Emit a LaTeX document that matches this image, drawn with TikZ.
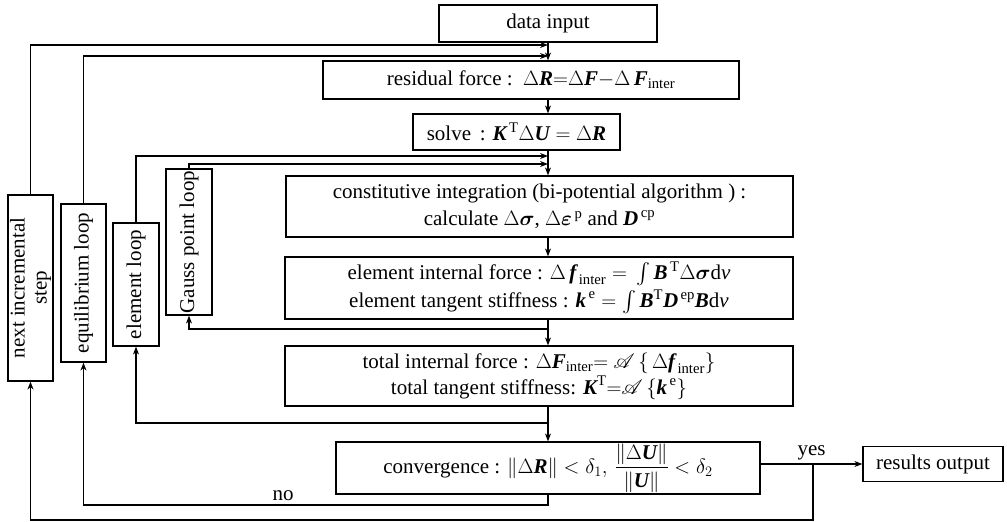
\documentclass[tikz,border=0pt]{standalone}
\usepackage{amsmath,amssymb,mathrsfs}
\usepackage{fontspec}
\setmainfont{Liberation Serif}
\usepackage{tikz}
\usetikzlibrary{arrows.meta}
\usetikzlibrary{calc}
\newcommand\vb[1]{\text{\bfseries\itshape #1}}
\newcommand\gb[1]{\boldsymbol{#1}}
\newcommand\up[1]{\mathrm{#1}}
\newcommand\iv{\text{\itshape v}}
\newcommand\inter{\text{inter}}
\tikzstyle{flowhead}=[>/.tip={Stealth[length=8pt,width=6pt]}]
\tikzstyle{flow}=[line width=1.2pt,flowhead,->]
\tikzstyle{stepbox}=[draw,line width=1.2pt,inner sep=0pt,align=center]
\tikzstyle{loopbox}=[stepbox,rotate=90]

\begin{document}
\begin{tikzpicture}[x=1pt,y=-1pt,font=\fontsize{21}{25}\selectfont]
  \useasboundingbox (0,0) rectangle (1007,522);
  % main column
  \node[stepbox,minimum width=218pt,minimum height=37pt] (input) at (548,23.5) {data input};
  \node[stepbox,minimum width=416pt,minimum height=38pt] (resid) at (531,80)
    {residual force :\ \ $\Delta\vb{R}{=}\Delta\vb{F}{-}\Delta\,\vb{F}_{\inter}$};
  \node[stepbox,minimum width=207pt,minimum height=36pt] (solve) at (516.5,132)
    {solve \,: $\vb{K}^{\,\up{T}}\Delta\vb{U}=\Delta\vb{R}$};
  \node[stepbox,minimum width=507pt,minimum height=61pt] (const) at (539.5,206.5)
    {constitutive integration (bi-potential algorithm ) :\\[2pt]
     calculate $\Delta\gb{\sigma}$, $\Delta\gb{\varepsilon}^{\,\up{p}}$ and $\vb{D}^{\,\up{cp}}$};
  \node[stepbox,minimum width=508pt,minimum height=62pt] (elem) at (539,288)
    {element internal force : $\Delta\,\vb{f}_{\,\inter}=\,\int\vb{B}^{\,\up{T}}\Delta\gb{\sigma}\up{d}\iv$\\[3pt]
     element tangent stiffness : $\vb{k}^{\,\up{e}}=\int\vb{B}^{\up{T}}\vb{D}^{\,\up{ep}}\vb{B}\up{d}\iv$};
  \node[stepbox,minimum width=508pt,minimum height=60pt] (total) at (539,376)
    {total internal force : $\Delta\vb{F}_{\inter}{=}\ \mathscr{A}\,\{\,\Delta\vb{f}_{\,\inter}\}$\\[1pt]
     total tangent stiffness: $\vb{K}^{\up{T}}{=}\mathscr{A}\,\{\vb{k}^{\,\up{e}}\}$};
  \node[stepbox,minimum width=424pt,minimum height=52pt] (conv) at (548,468)
    {convergence : $\|\Delta\vb{R}\|<\delta_1,\,\dfrac{\|\Delta\vb{U}\|}{\|\vb{U}\|}<\delta_2$};
  \node[stepbox,minimum width=140pt,minimum height=35pt] (results) at (933,464) {results output};
  % loop boxes
  \node[loopbox,minimum width=186pt,minimum height=45pt,font=\fontsize{21}{22}\selectfont] (next) at (30.5,288) {next incremental\\step};
  \node[loopbox,minimum width=158pt,minimum height=45pt] (equil) at (83.5,283) {equilibrium loop};
  \node[loopbox,minimum width=123pt,minimum height=46pt] (eloop) at (136,284.5) {element loop};
  \node[loopbox,minimum width=146pt,minimum height=46pt] (gauss) at (189,242) {Gauss point loop};
  % joints
  \coordinate (j1) at (548,45);
  \coordinate (j2) at (548,56);
  \coordinate (j3) at (548,156);
  \coordinate (j4) at (548,164);
  \coordinate (r1) at (548,329);
  \coordinate (r2) at (548,423);
  \coordinate (r3) at (548,505);
  \coordinate (yb) at (813,464);
  \coordinate (yd) at (813,520);
  % flow
  \draw[flow] (input) -- (input |- resid.north);
  \draw[flow] (input |- resid.south) -- (input |- solve.north);
  \draw[flow] (input |- solve.south) -- (input |- const.north);
  \draw[flow] (input |- const.south) -- (input |- elem.north);
  \draw[flow] (input |- elem.south) -- (input |- total.north);
  \draw[flow] (input |- total.south) -- (input |- conv.north);
  \draw[flow] (next) |- (j1);
  \draw[flow] (equil) |- (j2);
  \draw[flow] (eloop) |- (j3);
  \draw[flow] (gauss) |- (j4);
  \draw[flow] (r1) -| (gauss);
  \draw[flow] (r2) -| (eloop);
  \draw[flow] (conv) -- (r3) -| node[above,pos=0.285] {no} (equil);
  \draw[flow] (conv.east |- results) -- node[above] {yes} (results);
  \draw[flow] (yb) -- (yd) -| (next);
\end{tikzpicture}
\end{document}
